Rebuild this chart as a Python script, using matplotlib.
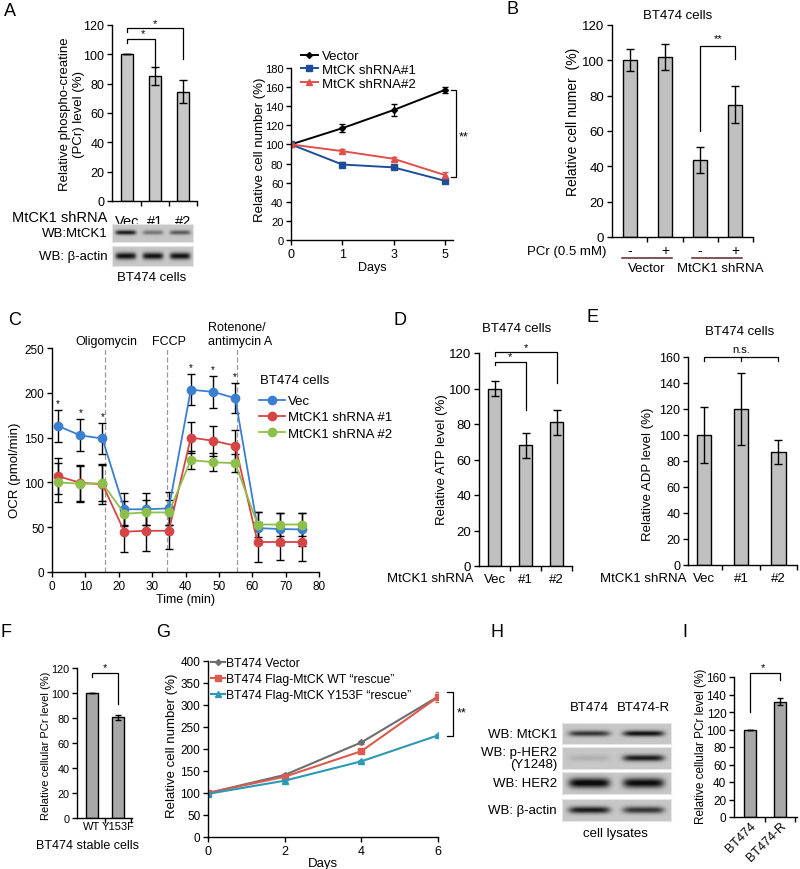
import numpy as np
import matplotlib
matplotlib.use("Agg")
import matplotlib.pyplot as plt

plt.rcParams['font.family'] = ['Liberation Sans', 'DejaVu Sans']

# ---- data ----
pcr_groups = ['Vec', '#1', '#2']
pcr_level = [100, 85.5, 74.5]
pcr_err = [0, 6.2, 8]
blot_a_mtck1 = [0.95, 0.45, 0.6]
blot_a_actin = [1.0, 1.0, 1.0]

growth_days = ['0', '1', '3', '5']
vector_growth = [100, 117, 136, 157]
vector_err = [2, 4, 6, 3]
sh1_growth = [100, 79, 76, 62]
sh1_err = [2, 2.5, 2, 2]
sh2_growth = [100, 93, 85, 68]
sh2_err = [2, 2, 2, 3]

pcr_treat = ['-', '+', '-', '+']
cell_num = [100, 101.9, 43.4, 75]
cell_num_err = [6.3, 7.5, 7.3, 10.7]

ocr_time = [1.8, 8.5, 15.1, 21.7, 28.3, 35.0, 41.6, 48.3, 54.9, 61.6, 68.2, 74.9]
ocr_vec = [163, 152.5, 149, 70, 70, 71, 203.5, 201, 194, 49, 48, 47.5]
ocr_vec_err = [18, 18, 17, 18, 18, 18, 17, 18, 17, 18, 18, 18]
ocr_sh1 = [107, 99.5, 98, 45, 46, 46, 150, 146.5, 141, 33.5, 33.5, 33.5]
ocr_sh1_err = [20, 20, 22, 23, 23, 20, 17, 17, 17, 22, 20, 21]
ocr_sh2 = [100, 98.5, 99, 65, 66.5, 66.5, 125, 122.5, 121.5, 53, 53, 53]
ocr_sh2_err = [22, 20, 20, 14, 14, 14, 10, 10, 10, 14, 13, 13]
ocr_star_idx = [0, 1, 2, 6, 7, 8]
drug_time = [15.8, 34.6, 55.3]
drug_names = ['Oligomycin', 'FCCP', 'Rotenone/\nantimycin A']

atp_level = [100, 68, 81]
atp_err = [4.5, 7, 7]
adp_level = [100, 120, 87]
adp_err = [21.5, 28, 9.5]

stable_groups = ['WT', 'Y153F']
stable_pcr = [100, 80.5]
stable_err = [0, 2]

rescue_days = [0, 2, 4, 6]
rescue_vec = [100, 141, 215, 319]
rescue_vec_err = [0, 2, 3, 5]
rescue_wt = [100, 137, 195, 318]
rescue_wt_err = [0, 3, 3, 12]
rescue_y153f = [98, 128, 172, 231]
rescue_y153f_err = [0, 2, 2, 3]

blot_h_rows = ['WB: MtCK1', 'WB: p-HER2\n(Y1248)', 'WB: HER2', 'WB: β-actin']
blot_h_lanes = ['BT474', 'BT474-R']
blot_h_bands = [[0.8, 1.0], [0.12, 0.95], [1.1, 1.05], [0.95, 0.8]]
blot_h_thick = [0.28, 0.3, 0.45, 0.32]

res_groups = ['BT474', 'BT474-R']
res_pcr = [100, 132]
res_err = [0, 4.5]

# ---- layout helpers (pixel boxes) ----
W, H = 800, 870
fig = plt.figure(figsize=(8, 8.7), dpi=100)


def add_ax(l, t, r, b):
    return fig.add_axes([l / W, 1 - b / H, (r - l) / W, (b - t) / H])


def ftext(x, y, s, **kw):
    kw.setdefault('ha', 'center')
    kw.setdefault('va', 'center')
    fig.text(x / W, 1 - y / H, s, **kw)


def style(ax, fs):
    for s in ['top', 'right']:
        ax.spines[s].set_visible(False)
    for s in ['left', 'bottom']:
        ax.spines[s].set_linewidth(1.0)
    ax.tick_params(direction='out', length=3.5, width=1.0, labelsize=fs, pad=2)


def cat_axis(ax, labels, fs, pad):
    n = len(labels)
    ax.set_xticks(range(n), labels)
    ax.tick_params(axis='x', which='major', length=0, pad=pad, labelsize=fs)
    ax.set_xticks([i + 0.5 for i in range(n)], minor=True)
    ax.tick_params(axis='x', which='minor', length=3.5, width=1.0)


def bracket(ax, x0, x1, y, y0, y1, txt, tx, ty, fs=8):
    ax.plot([x0, x0, x1, x1], [y0, y, y, y1], color='k', lw=0.9, clip_on=False)
    ax.text(tx, ty, txt, ha='center', va='center', fontsize=fs, clip_on=False)


def draw_blot(box, bands, thick=0.3):
    ax = add_ax(*box)
    xs = np.linspace(0, len(bands), 160)
    ys = np.linspace(-1, 1, 30)
    X, Y = np.meshgrid(xs, ys)
    img = np.full_like(X, 0.78)
    for i, s in enumerate(bands):
        img -= 0.72 * s * np.exp(-((X - i - 0.5) / 0.38) ** 6) * np.exp(-(Y / thick) ** 2)
    ax.imshow(np.clip(img, 0.05, 1), cmap='gray', vmin=0, vmax=1, aspect='auto',
              interpolation='bilinear')
    ax.set_xticks([])
    ax.set_yticks([])
    for sp in ax.spines.values():
        sp.set_color('#e6e6e6')
    return ax


ebar = dict(ecolor='k', elinewidth=1.0, capsize=3, capthick=1.0)

# ---- A: PCr bars ----
ax = add_ax(112, 26, 197, 202)
style(ax, 9)
ax.bar(range(3), pcr_level, width=0.43, color='#c8c8c8', edgecolor='k', lw=1.0,
       yerr=pcr_err, error_kw=ebar)
ax.set_xlim(-0.54, 2.5)
ax.set_ylim(0, 120)
ax.set_yticks(range(0, 121, 20))
cat_axis(ax, pcr_groups, 10.5, 9)
bracket(ax, 0, 2, 117.7, 115, 97, '*', 1.0, 121.5)
bracket(ax, 0, 1, 110.5, 108, 91, '*', 0.55, 114.5)
ftext(107, 218, 'MtCK1 shRNA', ha='right', fontsize=10.5)
ftext(72, 114, 'Relative phospho-creatine\n(PCr) level (%)', rotation=90, fontsize=9.5)
draw_blot((112, 225, 193, 243), blot_a_mtck1, thick=0.25)
draw_blot((112, 247, 193, 267), blot_a_actin, thick=0.35)
ftext(108, 234, 'WB:MtCK1', ha='right', fontsize=9.5)
ftext(108, 257, 'WB: β-actin', ha='right', fontsize=9.5)
ftext(152, 278, 'BT474 cells', fontsize=9.5)
ftext(10, 12, 'A', fontsize=13)

# ---- A: growth curves ----
ax = add_ax(291, 69, 453, 241)
style(ax, 8)
xi = list(range(len(growth_days)))
for vals, errs, col, mk, ms, lab in [
        (vector_growth, vector_err, 'k', 'D', 3, 'Vector'),
        (sh1_growth, sh1_err, '#1f4e99', 's', 4, 'MtCK shRNA#1'),
        (sh2_growth, sh2_err, '#e0504a', '^', 4.5, 'MtCK shRNA#2')]:
    ax.errorbar(xi, vals, yerr=errs, fmt='none', ecolor=col, elinewidth=1.0, capsize=2)
    ax.plot(xi, vals, color=col, marker=mk, ms=ms, lw=1.4, label=lab)
ax.set_xlim(0, 3.16)
ax.set_ylim(0, 180)
ax.set_yticks(range(0, 181, 20))
ax.set_xticks(xi, growth_days)
ax.tick_params(axis='x', labelsize=9)
ax.set_xlabel('Days', fontsize=9, labelpad=1)
ax.legend(loc='upper left', bbox_to_anchor=(0.06, 1.105), frameon=False, fontsize=9.5,
          handlelength=1.3, handletextpad=0.3, labelspacing=0.12, borderpad=0,
          borderaxespad=0)
ax.plot([3.13, 3.22, 3.22, 3.13], [157, 157, 66, 66], color='k', lw=0.9, clip_on=False)
ax.text(3.37, 108, '**', ha='center', va='center', fontsize=9)
ftext(260, 150, 'Relative cell number (%)', rotation=90, fontsize=9.5)

# ---- B ----
ax = add_ax(612, 26, 753, 238)
style(ax, 9.5)
ax.bar(range(4), cell_num, width=0.4, color='#c0c0c0', edgecolor='k', lw=1.0,
       yerr=cell_num_err, error_kw=ebar)
ax.set_xlim(-0.5, 3.5)
ax.set_ylim(0, 120)
ax.set_yticks(range(0, 121, 20))
cat_axis(ax, pcr_treat, 10, 4)
bracket(ax, 2, 3, 108, 60, 101, '**', 2.5, 112.5)
tr = ax.get_xaxis_transform()
ax.plot([-0.22, 1.2], [-0.097, -0.097], color='#5a2828', lw=1.1, transform=tr, clip_on=False)
ax.plot([1.77, 3.19], [-0.097, -0.097], color='#5a2828', lw=1.1, transform=tr, clip_on=False)
ftext(647, 269, 'Vector', fontsize=9.5)
ftext(720, 269, 'MtCK1 shRNA', fontsize=9.5)
ftext(606, 252, 'PCr (0.5 mM)', ha='right', fontsize=9.5)
ftext(678, 16, 'BT474 cells', fontsize=9.5)
ftext(573, 122, 'Relative cell numer  (%)', rotation=90, fontsize=10)
ftext(513, 10, 'B', fontsize=13)

# ---- C: OCR ----
ax = add_ax(52, 349, 319, 573)
style(ax, 8.5)
for xd in drug_time:
    ax.axvline(xd, color='#999999', lw=0.9, ls=(0, (4, 2)), zorder=0)
for xd, nm in zip(drug_time, drug_names):
    ax.text(xd + (1.2 if '\n' in nm else 0.4), 251.5, nm, ha='center', va='bottom',
            fontsize=9, multialignment='left', linespacing=1.15)
series = [(ocr_vec, ocr_vec_err, '#3b7fd0', 'Vec'),
          (ocr_sh1, ocr_sh1_err, '#d64545', 'MtCK1 shRNA #1'),
          (ocr_sh2, ocr_sh2_err, '#8cc04a', 'MtCK1 shRNA #2')]
for vals, errs, col, lab in series:
    ax.errorbar(ocr_time, vals, yerr=errs, fmt='none', ecolor='k', elinewidth=1.0,
                capsize=3, capthick=1.0, zorder=2)
for vals, errs, col, lab in series:
    ax.plot(ocr_time, vals, color=col, lw=1.3, marker='o', ms=6, label=lab, zorder=3)
for i in ocr_star_idx:
    ax.text(ocr_time[i], ocr_vec[i] + ocr_vec_err[i] + 8, '*', ha='center', va='center',
            fontsize=7)
ax.set_xlim(0, 80)
ax.set_ylim(0, 250)
ax.set_xticks(range(0, 81, 10))
ax.set_yticks(range(0, 251, 50))
ax.set_xlabel('Time (min)', fontsize=9, labelpad=1)
ax.text(0.78, 0.855, 'BT474 cells', transform=ax.transAxes, ha='left', va='center',
        fontsize=9.5)
ax.legend(loc='upper left', bbox_to_anchor=(0.775, 0.79), frameon=False, fontsize=9.5,
          handlelength=2.0, handletextpad=0.2, labelspacing=0.3, borderpad=0,
          borderaxespad=0)
ftext(15, 470, 'OCR (pmol/min)', rotation=90, fontsize=9.5)
ftext(15, 321, 'C', fontsize=13)

# ---- D: ATP ----
ax = add_ax(479, 354, 572, 567)
style(ax, 9.5)
ax.bar(range(3), atp_level, width=0.42, color='#c0c0c0', edgecolor='k', lw=1.0,
       yerr=atp_err, error_kw=ebar)
ax.set_xlim(-0.5, 2.5)
ax.set_ylim(0, 120)
ax.set_yticks(range(0, 121, 20))
cat_axis(ax, pcr_groups, 9.5, 5)
bracket(ax, 0, 2, 120.7, 118.5, 103, '*', 1.0, 123.5)
bracket(ax, 0, 1, 115, 113, 88, '*', 0.5, 118)
ftext(473, 579, 'MtCK1 shRNA', ha='right', fontsize=9.5)
ftext(517, 329, 'BT474 cells', fontsize=9.5)
ftext(442, 460, 'Relative ATP level (%)', rotation=90, fontsize=9.5)
ftext(400, 321, 'D', fontsize=13)

# ---- E: ADP ----
ax = add_ax(688, 358, 797, 566)
style(ax, 9)
ax.bar(range(3), adp_level, width=0.4, color='#c0c0c0', edgecolor='k', lw=1.0,
       yerr=adp_err, error_kw=ebar)
ax.set_xlim(-0.43, 2.51)
ax.set_ylim(0, 160)
ax.set_yticks(range(0, 161, 20))
cat_axis(ax, pcr_groups, 9.5, 5)
ax.plot([0, 0, 2, 2], [157, 160, 160, 157], color='k', lw=0.9, clip_on=False)
ax.plot([1, 1], [157, 160], color='k', lw=0.9, clip_on=False)
ax.text(1, 166, 'n.s.', ha='center', va='center', fontsize=8)
ftext(686, 579, 'MtCK1 shRNA', ha='right', fontsize=9.5)
ftext(740, 332, 'BT474 cells', fontsize=9.5)
ftext(648, 474, 'Relative ADP level (%)', rotation=90, fontsize=9.5)
ftext(592, 318, 'E', fontsize=13)

# ---- F ----
ax = add_ax(77, 669, 132, 819)
style(ax, 7.8)
ax.bar(range(2), stable_pcr, width=0.46, color='#a8a8a8', edgecolor='k', lw=1.0,
       yerr=stable_err, error_kw=dict(ebar, capsize=2))
ax.set_xlim(-0.58, 1.54)
ax.set_ylim(0, 120)
ax.set_yticks(range(0, 121, 20))
cat_axis(ax, stable_groups, 8, 2)
bracket(ax, 0, 1, 116, 113, 91, '*', 0.5, 120.5)
ftext(88, 846, 'BT474 stable cells', fontsize=9)
ftext(46, 746, 'Relative cellular PCr level (%)', rotation=90, fontsize=8)
ftext(6, 633, 'F', fontsize=13)

# ---- G ----
ax = add_ax(208, 662, 438, 838)
style(ax, 8.5)
for vals, errs, col, mk, ms, lab in [
        (rescue_vec, rescue_vec_err, '#6e6e6e', 'D', 3, 'BT474 Vector'),
        (rescue_wt, rescue_wt_err, '#dd5a50', 's', 4, 'BT474 Flag-MtCK WT “rescue”'),
        (rescue_y153f, rescue_y153f_err, '#2a9ab5', '^', 4.5,
         'BT474 Flag-MtCK Y153F “rescue”')]:
    ax.errorbar(rescue_days, vals, yerr=errs, fmt='none', ecolor=col, elinewidth=1.0,
                capsize=2)
    ax.plot(rescue_days, vals, color=col, marker=mk, ms=ms, lw=1.5, label=lab)
ax.set_xlim(0, 6)
ax.set_ylim(0, 400)
ax.set_xticks(rescue_days)
ax.set_yticks(range(0, 401, 50))
ax.tick_params(axis='x', labelsize=9)
ax.set_xlabel('Days', fontsize=9.5, labelpad=0)
ax.legend(loc='upper left', bbox_to_anchor=(0.015, 1.02), frameon=False, fontsize=8.8,
          handlelength=1.1, handletextpad=0.1, labelspacing=0.3, borderpad=0,
          borderaxespad=0)
ax.plot([6.23, 6.39, 6.39, 6.23], [329, 329, 230, 230], color='k', lw=0.9, clip_on=False)
ax.text(6.62, 282, '**', ha='center', va='center', fontsize=9)
ftext(172, 746, 'Relative cell number (%)', rotation=90, fontsize=9.5)
ftext(163, 633, 'G', fontsize=13)

# ---- H: blots ----
row_boxes = [(562, 724, 671, 745), (562, 748, 671, 770), (562, 773, 671, 795),
             (562, 800, 671, 822)]
for box, lab, bands, th in zip(row_boxes, blot_h_rows, blot_h_bands, blot_h_thick):
    draw_blot(box, bands, thick=th)
    ftext(557, (box[1] + box[3]) / 2, lab, ha='right', fontsize=9.5,
          multialignment='right', linespacing=1.1)
for i, lane in enumerate(blot_h_lanes):
    ftext(562 + (i + 0.5) * 54.5, 708, lane, fontsize=9.5)
ftext(615, 834, 'cell lysates', fontsize=9.5)
ftext(497, 633, 'H', fontsize=13)

# ---- I ----
ax = add_ax(734, 678, 797, 818)
style(ax, 8.5)
ax.bar(range(2), res_pcr, width=0.4, color='#a8a8a8', edgecolor='k', lw=1.0,
       yerr=res_err, error_kw=dict(ebar, capsize=2))
ax.set_xlim(-0.53, 1.57)
ax.set_ylim(0, 160)
ax.set_yticks(range(0, 161, 20))
ax.set_xticks(range(2), res_groups, rotation=45, ha='right', rotation_mode='anchor')
ax.tick_params(axis='x', which='major', length=0, pad=2, labelsize=9)
ax.set_xticks([0.5, 1.5], minor=True)
ax.tick_params(axis='x', which='minor', length=3.5, width=1.0)
bracket(ax, 0, 1, 164.5, 120, 157, '*', 0.45, 171)
ftext(701, 746, 'Relative cellular PCr level (%)', rotation=90, fontsize=8.5)
ftext(685, 633, 'I', fontsize=13)

fig.savefig('out.png', dpi=100)
